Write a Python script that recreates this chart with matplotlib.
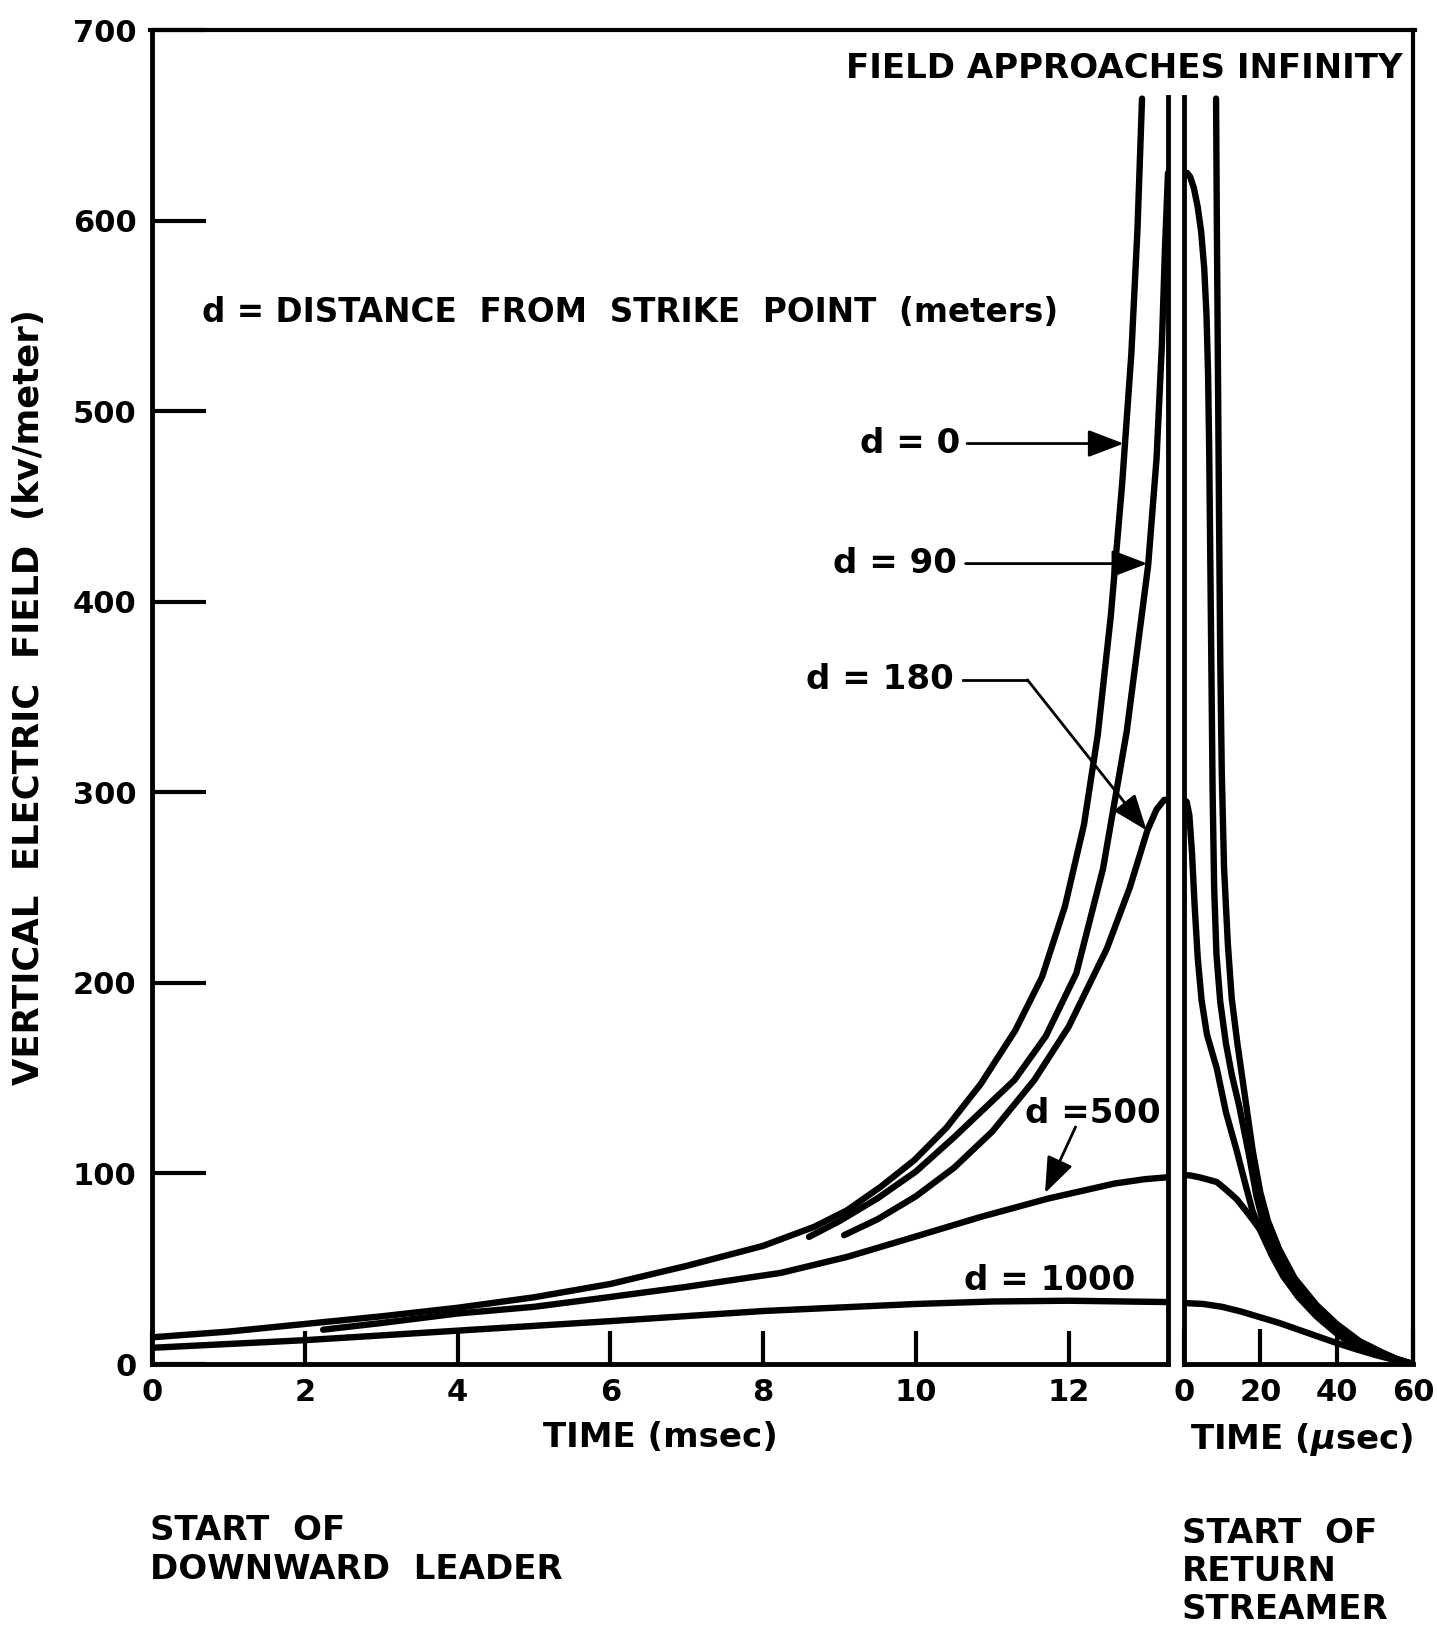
import matplotlib
matplotlib.use("Agg")
import matplotlib.pyplot as plt
from matplotlib.lines import Line2D

plt.rcParams['font.family'] = ['DejaVu Sans']
plt.rcParams['font.weight'] = 'bold'

# leader phase (time in msec), field in kV/m
lead_t_d0 = [0, 1, 2, 3, 4, 5, 6, 7, 8, 8.67, 9.1, 9.54, 9.98, 10.4, 10.85, 11.3, 11.65,
             11.95, 12.2, 12.38, 12.55, 12.7, 12.82, 12.9, 12.96]
lead_e_d0 = [14, 17, 21, 25, 29.5, 35, 42, 51.5, 62, 72, 80.7, 93, 107, 124, 147, 175, 203,
             240, 283, 330, 392, 462, 530, 595, 664]
lead_t_d90 = [8.6, 9.0, 9.5, 10.0, 10.5, 11.0, 11.29, 11.7, 12.1, 12.45, 12.76, 13.04, 13.15,
              13.22, 13.26, 13.29, 13.3]
lead_e_d90 = [66.7, 75, 87, 101, 119, 138, 149, 172, 205, 260, 332, 419, 475, 535, 585, 615, 625]
lead_t_d180 = [9.06, 9.5, 10.0, 10.5, 11.0, 11.55, 12.0, 12.5, 12.8, 13.03, 13.15, 13.25, 13.3]
lead_e_d180 = [67.6, 76, 88, 103, 122, 149, 177, 218, 250, 280, 291, 296, 296]
lead_t_d500 = [2.24, 3, 4, 5, 5.87, 7, 8.23, 9.1, 9.98, 10.85, 11.73, 12.6, 13.0, 13.3]
lead_e_d500 = [18, 21.5, 26.5, 30, 34.5, 40.5, 47.8, 56.2, 66.7, 77.2, 86.8, 94.7, 97, 98]
lead_t_d1000 = [0, 2, 4, 6, 8, 10, 11, 12, 13.3]
lead_e_d1000 = [8.5, 12.5, 17.5, 22.5, 27.8, 31.5, 32.8, 33.2, 32.5]

# return streamer phase (time in microsec)
ret_t_d0 = [8.4, 8.6, 8.9, 9.2, 9.5, 9.9, 10.5, 11.5, 12.5, 14, 16, 18, 20, 22, 25, 29, 34.7,
            40, 46, 52, 56, 60]
ret_e_d0 = [664, 600, 520, 440, 370, 310, 260, 220, 192, 168, 140, 112, 90, 75, 60, 45, 31,
            21, 12, 6, 2.5, 0]
ret_t_d90 = [0, 0.8, 1.6, 2.6, 3.6, 4.5, 5.3, 5.9, 6.3, 6.6, 6.9, 7.2, 7.5, 7.9, 8.5, 9.5,
             11, 12.5, 14.5, 17, 19, 21, 24, 28, 33, 38, 44, 50, 55, 60]
ret_e_d90 = [625, 625, 623, 617, 607, 594, 575, 550, 520, 480, 420, 360, 300, 250, 215, 190,
             168, 152, 135, 110, 88, 72, 57, 43, 31, 21, 12.5, 6.5, 3, 0]
ret_t_d180 = [0, 0.7, 1.4, 2.1, 2.8, 3.6, 4.6, 6, 8.6, 11, 13.8, 16, 18, 20, 23, 26, 30, 34.7,
              40, 43.5, 50, 55, 60]
ret_e_d180 = [296, 295, 288, 268, 240, 213, 191, 173, 155, 132, 112, 95, 80, 70, 57, 46, 35,
              25, 16, 11, 5.5, 2.5, 0]
ret_t_d500 = [0, 1.5, 4, 8.6, 11, 13.8, 16, 18.1, 21.6, 25, 30, 35, 40, 45, 50, 55, 60]
ret_e_d500 = [99, 99, 98, 95.5, 91.5, 86.5, 81, 75.5, 65.8, 55, 40, 28, 18, 11, 6, 2.5, 0]
ret_t_d1000 = [0, 5, 10, 15, 20, 25, 30, 35, 40, 45, 50, 55, 60]
ret_e_d1000 = [32, 31.5, 30, 27.5, 24.5, 21.5, 18, 14.5, 11, 7.8, 4.8, 2.2, 0]

y_ticks = [0, 100, 200, 300, 400, 500, 600, 700]
ms_ticks = [0, 2, 4, 6, 8, 10, 12]
ms_labels = ['0', '2', '4', '6', '8', '10', '12']
us_ticks = [0, 20, 40, 60]

W, H = 1437, 1626
fig = plt.figure(figsize=(W / 100, H / 100), dpi=100)
ax1 = fig.add_axes([152 / W, 262 / H, 1016 / W, 1334 / H])
ax2 = fig.add_axes([1184 / W, 262 / H, 229 / W, 1334 / H])

style = dict(color='k', lw=4.6, solid_capstyle='round', solid_joinstyle='round')
for t, e in [(lead_t_d0, lead_e_d0), (lead_t_d90, lead_e_d90), (lead_t_d180, lead_e_d180),
             (lead_t_d500, lead_e_d500), (lead_t_d1000, lead_e_d1000)]:
    ax1.plot(t, e, **style)
for t, e in [(ret_t_d0, ret_e_d0), (ret_t_d90, ret_e_d90), (ret_t_d180, ret_e_d180),
             (ret_t_d500, ret_e_d500), (ret_t_d1000, ret_e_d1000)]:
    ax2.plot(t, e, **style)

ax1.set_xlim(0, 13.3)
ax1.set_ylim(0, 700)
ax2.set_xlim(0, 60)
ax2.set_ylim(0, 700)

ax1.set_yticks(y_ticks)
ax1.set_xticks(ms_ticks)
ax1.set_xticklabels(ms_labels)
ax2.set_xticks(us_ticks)
ax2.set_yticks([])
ax1.tick_params(axis='y', direction='in', length=39, width=3, pad=11, labelsize=22)
ax1.tick_params(axis='x', direction='in', length=24, width=3, pad=10, labelsize=22)
ax2.tick_params(axis='x', direction='in', length=25, width=3, pad=10, labelsize=22)

for ax in (ax1, ax2):
    ax.spines['top'].set_visible(False)
    for s in ax.spines.values():
        s.set_linewidth(3.5)
ax1.spines['right'].set_bounds(0, 665)
ax2.spines['left'].set_bounds(0, 665)
ax2.spines['right'].set_linewidth(3)

# continuous top frame line across both panels
ytop = (H - 30) / H
fig.add_artist(Line2D([150 / W, 1415 / W], [ytop, ytop], transform=fig.transFigure,
                      color='k', lw=3))

fs = 24.5
arrow = dict(arrowstyle='-|>,head_length=1.1,head_width=0.42', lw=2, color='k',
             mutation_scale=20, shrinkA=0, shrinkB=0)

ax1.text(10.58, 483, "d = 0", ha='right', va='center', fontsize=fs)
ax1.annotate("", xy=(12.72, 483), xytext=(10.67, 483), arrowprops=arrow)
ax1.text(10.54, 420, "d = 90", ha='right', va='center', fontsize=fs)
ax1.annotate("", xy=(13.03, 420), xytext=(10.65, 420), arrowprops=arrow)
ax1.text(10.49, 359, "d = 180", ha='right', va='center', fontsize=fs)
ax1.plot([10.62, 11.46], [359, 359], color='k', lw=2)
ax1.annotate("", xy=(13.02, 280), xytext=(11.46, 359), arrowprops=arrow)
ax1.text(12.31, 131.7, "d =500", ha='center', va='center', fontsize=fs)
ax1.annotate("", xy=(11.69, 89.7), xytext=(12.09, 124.4), arrowprops=arrow)
ax1.text(11.75, 44, "d = 1000", ha='center', va='center', fontsize=fs)

fig.text(1402 / W, 1 - 68 / H, "FIELD APPROACHES INFINITY", ha='right', va='center', fontsize=fs)
fig.text(202 / W, 1 - 313 / H, "d = DISTANCE  FROM  STRIKE  POINT  (meters)", ha='left',
         va='center', fontsize=23.5)
fig.text(29 / W, 1 - 697 / H, "VERTICAL  ELECTRIC  FIELD  (kv/meter)", rotation=90,
         ha='center', va='center', fontsize=25.5)
fig.text(660 / W, 1 - 1437 / H, "TIME (msec)", ha='center', va='center', fontsize=fs)
fig.text(1302 / W, 1 - 1439 / H, "TIME ($\\mu$sec)", ha='center', va='center', fontsize=fs)

for txt, yc in [("START  OF", 1530), ("DOWNWARD  LEADER", 1569)]:
    fig.text(150 / W, 1 - yc / H, txt, ha='left', va='center', fontsize=fs)
for txt, yc in [("START  OF", 1533), ("RETURN", 1571), ("STREAMER", 1609)]:
    fig.text(1182 / W, 1 - yc / H, txt, ha='left', va='center', fontsize=fs)

fig.savefig("out.png", dpi=100, facecolor='white')
